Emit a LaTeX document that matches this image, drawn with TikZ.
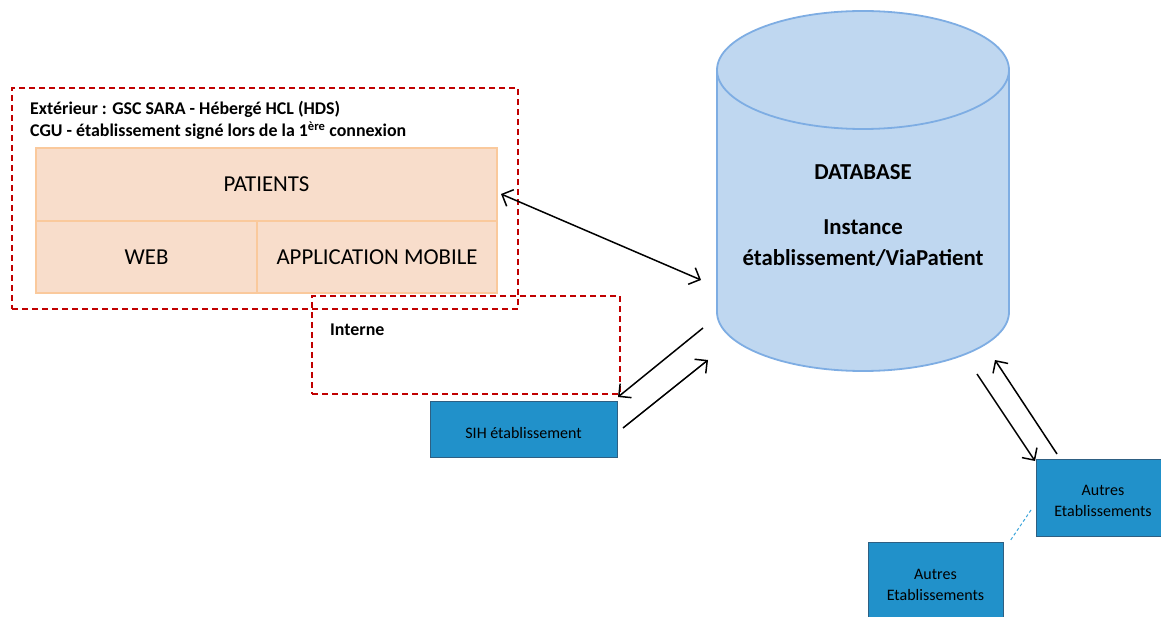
\documentclass[tikz,border=0pt]{standalone}
\usepackage{fontspec}
\setmainfont{Carlito}
\usetikzlibrary{arrows.meta}
\definecolor{peachfill}{HTML}{F8DDCB}
\definecolor{peachdraw}{HTML}{FAC99C}
\definecolor{reddash}{HTML}{C00000}
\definecolor{dbfill}{HTML}{BFD7F0}
\definecolor{dbdraw}{HTML}{7EADE3}
\definecolor{bluefill}{HTML}{2191CA}
\definecolor{bluedraw}{HTML}{2E5F82}
\definecolor{dotblue}{HTML}{3BA5DB}
\begin{document}
\begin{tikzpicture}[x=1pt,y=-1pt,
  zone/.style={draw=reddash, line width=1.8pt, dash pattern=on 6pt off 4pt, inner sep=0pt},
  peach/.style={draw=peachdraw, fill=peachfill, line width=1.5pt, inner sep=0pt,
     font=\fontsize{22.8}{27}\selectfont},
  bluebox/.style={draw=bluedraw, fill=bluefill, line width=0.8pt, inner sep=0pt},
  bluetxt/.style={align=center, inner sep=0pt, font=\fontsize{16}{21.5}\selectfont},
  hdr/.style={anchor=base west, font=\bfseries\fontsize{17.9}{21}\selectfont, inner sep=0pt},
  dbtxt/.style={font=\bfseries\fontsize{22.8}{27}\selectfont, inner sep=0pt},
  conn/.style={draw=black, line width=1.5pt, -{Straight Barb[length=9pt,width=18pt]}},
  biconn/.style={draw=black, line width=1.5pt, {Straight Barb[length=9pt,width=18pt]}-{Straight Barb[length=9pt,width=18pt]}}
]
\useasboundingbox (0,0) rectangle (1161,617);
\clip (0,0) rectangle (1161,617);
\fill[white] (0,0) rectangle (1161,617);

% Database cylinder
\fill[dbfill] (717,70) rectangle (1009,312);
\fill[dbfill] (863,312) ellipse [x radius=146pt, y radius=59pt];
\draw[dbdraw, line width=1.8pt] (717,70) -- (717,312)
   arc[start angle=180, end angle=360, x radius=146pt, y radius=59pt] -- (1009,70);
\draw[dbdraw, line width=1.8pt, fill=dbfill] (863,70) ellipse [x radius=146pt, y radius=59pt];
\coordinate (db) at (863,190);
\node[dbtxt] (dbt1) at (863,172) {DATABASE};
\node[dbtxt] (dbt2) at (863,227) {Instance};
\node[dbtxt] (dbt3) at (863,258) {établissement/ViaPatient};

% Peach boxes
\node[peach, minimum width=461pt, minimum height=73pt] (patients) at (266.5,184.5) {PATIENTS};
\node[peach, minimum width=221pt, minimum height=72pt] (web) at (146.5,257) {WEB};
\node[peach, minimum width=240pt, minimum height=72pt] (app) at (377,257) {APPLICATION MOBILE};

% Zones
\node[zone, minimum width=506pt, minimum height=221pt] (ext) at (265,198.5) {};
\node[zone, minimum width=308pt, minimum height=98pt] (int) at (466,345) {};
\node[hdr] (h1) at (30,115) {Extérieur : GSC SARA - Hébergé HCL (HDS)};
\node[hdr] (h2) at (30,137) {CGU - établissement signé lors de la 1\textsuperscript{ère} connexion};
\node[hdr] (h3) at (330,335) {Interne};

% Blue boxes
\node[bluebox, minimum width=187pt, minimum height=56pt] (sih) at (523.5,429) {};
\node[bluetxt] (siht) at (523.5,433) {SIH établissement};
\node[bluebox, minimum width=134pt, minimum height=77pt] (autres1) at (1103,497.5) {};
\node[bluetxt] (autres1t) at (1103,501) {Autres\\Etablissements};
\node[bluebox, minimum width=135pt, minimum height=88pt] (autres2) at (935.5,586) {};
\node[bluetxt] (autres2t) at (935.5,585) {Autres\\Etablissements};

% Connector end points
\coordinate (a1s) at (501,194);
\coordinate (a1e) at (701,280);
\coordinate (a2s) at (703,328);
\coordinate (a2e) at (618,397);
\coordinate (a3s) at (623,428);
\coordinate (a3e) at (708,360);
\coordinate (a4s) at (977,374);
\coordinate (a4e) at (1035,461);
\coordinate (a5s) at (1057,454);
\coordinate (a5e) at (995,360);
\coordinate (d1) at (1031,510);
\coordinate (d2) at (1010,541);

\draw[biconn] (a1s) -- (a1e);
\draw[conn] (a2s) -- (a2e);
\draw[conn] (a3s) -- (a3e);
\draw[conn] (a4s) -- (a4e);
\draw[conn] (a5s) -- (a5e);
\draw[dotblue, line width=1pt, dash pattern=on 3pt off 2.5pt] (d1) -- (d2);
\end{tikzpicture}
\end{document}
